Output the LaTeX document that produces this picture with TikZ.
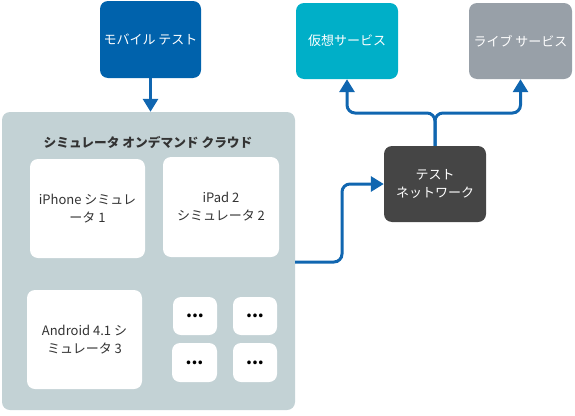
\documentclass[tikz,border=0pt]{standalone}
\usepackage{fontspec}
\setmainfont{Noto Sans CJK JP}
\usetikzlibrary{arrows.meta}
\definecolor{mobblue}{HTML}{0062AC}
\definecolor{virtcyan}{HTML}{00AFC8}
\definecolor{livegray}{HTML}{98A0A8}
\definecolor{netdark}{HTML}{454545}
\definecolor{cloudbg}{HTML}{C3D2D5}
\definecolor{linkblue}{HTML}{1066B0}
\definecolor{txtdark}{HTML}{333333}
\tikzset{
  box/.style={rounded corners=8pt, inner sep=0pt, align=center, font=\fontsize{13}{18}\selectfont},
  colbox/.style={box, text=white},
  simbox/.style={box, fill=white, text=txtdark},
  dotbox/.style={box, fill=white, text=black, font=\fontsize{17}{18}\selectfont\bfseries},
  link/.style={draw=linkblue, line width=3pt, rounded corners=8pt, -{Triangle[width=15pt,length=13pt]}}
}
\begin{document}
\begin{tikzpicture}[x=1pt,y=-1pt]
\useasboundingbox (0,0) rectangle (575,415);
% top boxes
\node[colbox, fill=mobblue, minimum width=101pt, minimum height=77pt] (mob) at (150.5,39.5) {モバイル テスト};
\node[colbox, fill=virtcyan, minimum width=102pt, minimum height=76pt] (vs) at (347,41) {仮想サービス};
\node[colbox, fill=livegray, minimum width=103pt, minimum height=76pt] (ls) at (520.5,41) {ライブ サービス};
\node[colbox, fill=netdark, minimum width=102pt, minimum height=76pt] (tn) at (435,184) {テスト\\ネットワーク};
% cloud
\node[box, fill=cloudbg, minimum width=293pt, minimum height=298pt] (cloud) at (148.5,261) {};
\node[box, text=txtdark, font=\fontsize{12.7}{16}\selectfont\bfseries] (title) at (148,142) {シミュレータ オンデマンド クラウド};
\node[simbox, minimum width=115pt, minimum height=99pt] (iph) at (87.5,208.5) {iPhone シミュレ\\ータ 1};
\node[simbox, minimum width=116pt, minimum height=100pt] (ipad) at (221,207) {iPad 2\\シミュレータ 2};
\node[simbox, minimum width=115pt, minimum height=99pt] (andr) at (84.5,339.5) {Android 4.1 シ\\ミュレータ 3};
\node[dotbox, minimum width=44pt, minimum height=38pt] (d1) at (195,316) {...};
\node[dotbox, minimum width=44pt, minimum height=38pt] (d2) at (255,316) {...};
\node[dotbox, minimum width=45pt, minimum height=39pt] (d3) at (194.5,362.5) {...};
\node[dotbox, minimum width=44pt, minimum height=39pt] (d4) at (255,362.5) {...};
% connectors
\draw[link] (mob.south) -- (cloud.north -| mob.south);
\coordinate (cout) at (295,262);
\coordinate (cturn) at (342,262);
\draw[link] (cout) -- (cturn) |- (tn.west);
\coordinate (j) at (435,113);
\draw[link] (tn.north) -- (j) -| (vs.south);
\draw[link] (tn.north) -- (j) -| (ls.south);
\end{tikzpicture}
\end{document}
